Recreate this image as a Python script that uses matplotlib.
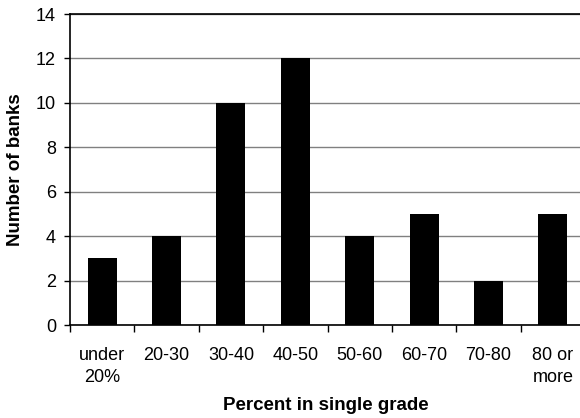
import matplotlib
matplotlib.use("Agg")
import matplotlib.pyplot as plt
import numpy as np

categories = ["under\n20%", "20-30", "30-40", "40-50", "50-60", "60-70", "70-80", "80 or\nmore"]
banks = [3, 4, 10, 12, 4, 5, 2, 5]
y_ticks = [0, 2, 4, 6, 8, 10, 12, 14]

plt.rcParams["font.family"] = ["Liberation Sans", "DejaVu Sans"]

W, H = 580, 418
fig = plt.figure(figsize=(W / 100, H / 100), dpi=100)
left, right, bottom, top = 70, 585, 325, 14
ax = fig.add_axes([left / W, (H - bottom) / H, (right - left) / W, (bottom - top) / H])

x = np.arange(len(categories))
ax.bar(x, banks, width=0.45, color="black", zorder=3)

ax.set_xlim(-0.5, len(categories) - 0.5)
ax.set_ylim(0, 14)
ax.set_yticks(y_ticks)
ax.tick_params(axis="y", labelsize=13, length=4, width=1, pad=6, direction="out")

# category labels centred, tick marks at category boundaries
ax.set_xticks(x)
ax.set_xticklabels(categories, fontsize=13, linespacing=1.35, va="top")
ax.tick_params(axis="x", which="major", length=0, pad=16)
ax.set_xticks(np.arange(len(categories) + 1) - 0.5, minor=True)
ax.tick_params(axis="x", which="minor", length=5, width=1, direction="out")

ax.yaxis.grid(True, color="#808080", linewidth=1, zorder=0)
ax.axhline(14, color="black", linewidth=1.2, zorder=2, clip_on=False)

for s in ["right", "top"]:
    ax.spines[s].set_visible(False)
ax.spines["left"].set_linewidth(1.2)
ax.spines["bottom"].set_linewidth(1.2)

ax.set_ylabel("Number of banks", fontsize=13.5, fontweight="bold")
ax.set_xlabel("Percent in single grade", fontsize=13.5, fontweight="bold")
ax.xaxis.set_label_coords((326 - left) / (right - left), -(397 - bottom) / (bottom - top))
ax.yaxis.set_label_coords(-(70 - 24) / (right - left), 0.5)

fig.savefig("out.png", dpi=100)
